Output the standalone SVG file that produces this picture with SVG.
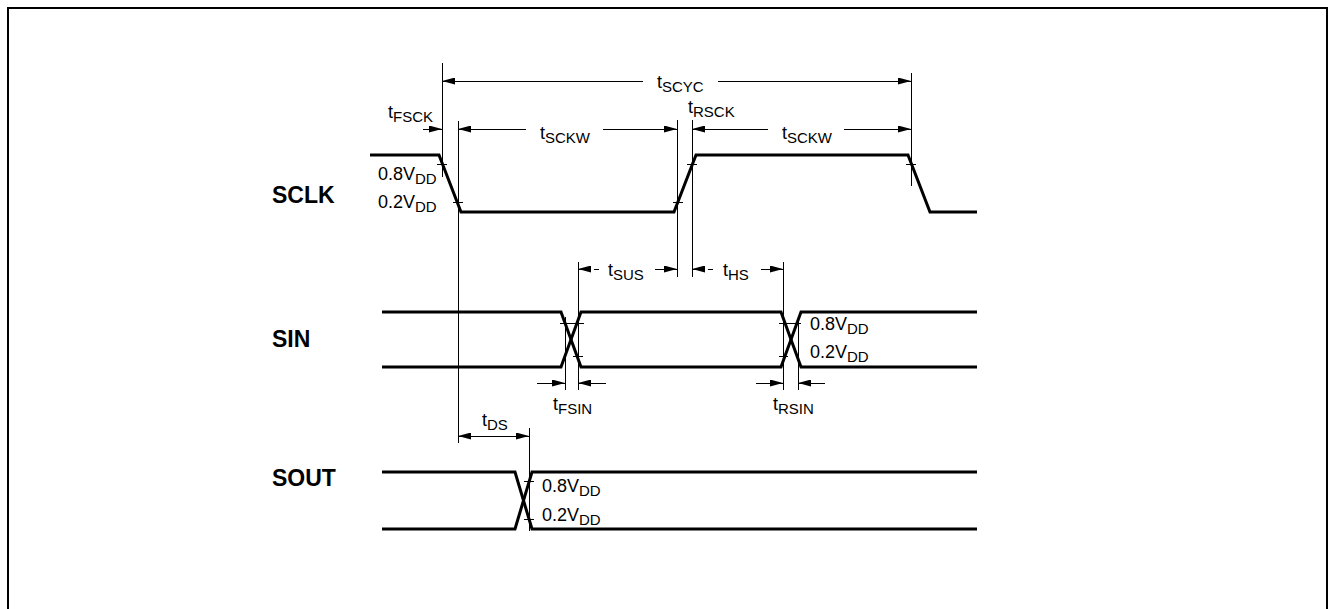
<svg xmlns="http://www.w3.org/2000/svg" width="1328" height="609" viewBox="0 0 1328 609">
<style>
.frame{fill:none;stroke:#000;stroke-width:2}
.sig{fill:none;stroke:#000;stroke-width:3;stroke-linejoin:miter}
.thin{fill:none;stroke:#000;stroke-width:1;shape-rendering:crispEdges}
.dash{fill:none;stroke:#000;stroke-width:1;stroke-dasharray:5 3;shape-rendering:crispEdges}
text{font-family:"Liberation Sans",Arial,sans-serif;font-size:18px;fill:#000}
.sub{font-size:15px}
.name{font-size:23px;font-weight:bold}
</style>
<defs>
<marker id="ah" markerUnits="userSpaceOnUse" markerWidth="13" markerHeight="7" refX="13" refY="3.5" orient="auto-start-reverse">
<path d="M0,0 L13,3.5 L0,7 Z" fill="#000" stroke="none"/>
</marker>
</defs>
<rect class="frame" x="8" y="8" width="1319" height="700"/>

<g id="sclk">
<text class="name" x="272" y="203">SCLK</text>
<path class="sig" d="M370,155 H439 L461,212 H674 L696,155 H908 L930,212 H977"/>
<path class="thin" d="M437,164 H447 M453,202 H463 M673,202 H683 M687,164 H697 M906,164 H916"/>
<text x="378" y="180">0.8V<tspan class="sub" dy="4">DD</tspan></text>
<text x="378" y="208">0.2V<tspan class="sub" dy="4">DD</tspan></text>
</g>

<g id="sin">
<text class="name" x="272" y="347">SIN</text>
<path class="sig" d="M382,312 H561 L581,367 H781 L801,312 H977"/>
<path class="sig" d="M382,367 H561 L581,312 H781 L801,367 H977"/>
<path class="thin" d="M560,323 H584 M573,356 H583 M779,323 H801 M779,356 H788"/>
<text x="810" y="330">0.8V<tspan class="sub" dy="4">DD</tspan></text>
<text x="810" y="358">0.2V<tspan class="sub" dy="4">DD</tspan></text>
</g>

<g id="sout">
<text class="name" x="272" y="486">SOUT</text>
<path class="sig" d="M382,472 H515 L532,529 H977"/>
<path class="sig" d="M382,529 H515 L532,472 H977"/>
<path class="thin" d="M524,481 H534 M524,519 H534"/>
<text x="542" y="492">0.8V<tspan class="sub" dy="4">DD</tspan></text>
<text x="542" y="521">0.2V<tspan class="sub" dy="4">DD</tspan></text>
</g>

<g id="connectors">
<path class="thin" d="M442,63 V177 M458,121 V443 M677,120 V277 M692,120 V277 M911,73 V186 M565,317 V390 M578,262 V390 M783,262 V390 M798,317 V390 M529,428 V531"/>
<line class="thin" x1="442" y1="81" x2="643" y2="81" marker-start="url(#ah)"/>
<line class="thin" x1="718" y1="81" x2="911" y2="81" marker-end="url(#ah)"/>
<line class="thin" x1="423" y1="129" x2="442" y2="129" marker-end="url(#ah)"/>
<line class="thin" x1="458" y1="129" x2="526" y2="129" marker-start="url(#ah)"/>
<line class="thin" x1="603" y1="129" x2="677" y2="129" marker-end="url(#ah)"/>
<line class="thin" x1="692" y1="129" x2="768" y2="129" marker-start="url(#ah)"/>
<line class="thin" x1="844" y1="129" x2="911" y2="129" marker-end="url(#ah)"/>
<line class="dash" x1="578" y1="269" x2="602" y2="269" marker-start="url(#ah)"/>
<line class="thin" x1="655" y1="269" x2="677" y2="269" marker-end="url(#ah)"/>
<line class="dash" x1="692" y1="269" x2="716" y2="269" marker-start="url(#ah)"/>
<line class="thin" x1="761" y1="269" x2="783" y2="269" marker-end="url(#ah)"/>
<line class="thin" x1="537" y1="383" x2="565" y2="383" marker-end="url(#ah)"/>
<line class="thin" x1="606" y1="383" x2="578" y2="383" marker-end="url(#ah)"/>
<line class="thin" x1="756" y1="383" x2="783" y2="383" marker-end="url(#ah)"/>
<line class="thin" x1="825" y1="383" x2="798" y2="383" marker-end="url(#ah)"/>
<line class="thin" x1="458" y1="436" x2="529" y2="436" marker-start="url(#ah)" marker-end="url(#ah)"/>
</g>

<g id="labels">
<text x="657" y="88">t<tspan class="sub" dy="4">SCYC</tspan></text>
<text x="388" y="118">t<tspan class="sub" dy="4">FSCK</tspan></text>
<text x="540" y="139">t<tspan class="sub" dy="4">SCKW</tspan></text>
<text x="688" y="113">t<tspan class="sub" dy="4">RSCK</tspan></text>
<text x="782" y="139">t<tspan class="sub" dy="4">SCKW</tspan></text>
<text x="608" y="276">t<tspan class="sub" dy="4">SUS</tspan></text>
<text x="723" y="276">t<tspan class="sub" dy="4">HS</tspan></text>
<text x="553" y="410">t<tspan class="sub" dy="4">FSIN</tspan></text>
<text x="773" y="410">t<tspan class="sub" dy="4">RSIN</tspan></text>
<text x="482" y="426">t<tspan class="sub" dy="4">DS</tspan></text>
</g>
</svg>
